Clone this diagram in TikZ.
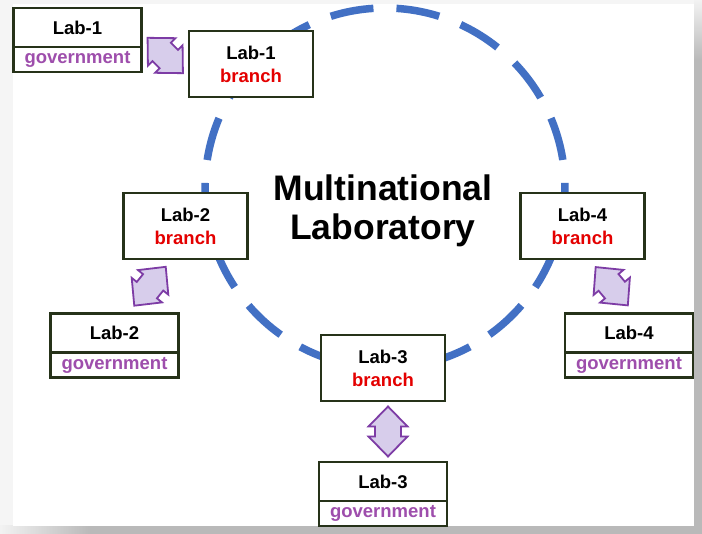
\documentclass[tikz,border=0pt]{standalone}
\usepackage{fontspec}
\setmainfont{Liberation Sans}
\usetikzlibrary{positioning,calc}
\definecolor{boxline}{RGB}{38,50,25}
\definecolor{branchred}{RGB}{228,0,0}
\definecolor{govpurple}{RGB}{158,78,172}
\definecolor{arrline}{RGB}{125,60,165}
\definecolor{arrfill}{RGB}{215,205,235}
\definecolor{ringblue}{RGB}{66,112,196}
\begin{document}
\begin{tikzpicture}[
	x=1pt,y=-1pt,
	font=\fontsize{18.5}{23}\selectfont\bfseries,
	brbox/.style={draw=boxline,line width=2.4pt,fill=white,outer sep=0pt,
		inner sep=0pt,minimum width=124pt,minimum height=66pt,align=center},
	govtop/.style={draw=boxline,line width=2.4pt,fill=white,outer sep=0pt,
		inner sep=0pt,minimum width=128pt,minimum height=39pt},
	govname/.style={govtop,minimum height=25pt,text=govpurple},
	ring/.style={draw=ringblue,line width=7.5pt,dash pattern=on 43.5pt off 23.03pt},
	dblarrow/.pic={
		\draw[draw=arrline,fill=arrfill,line width=1.8pt,line join=miter]
			(-25,0) -- (-5,19.5) -- (-5,13) -- (5,13) -- (5,19.5) -- (25,0)
			-- (5,-19.5) -- (5,-13) -- (-5,-13) -- (-5,-19.5) -- cycle;
	},
	]
% slide and shadow
\useasboundingbox (0,0) rectangle (702,534);
\fill[gray!8] (0,0) rectangle (702,534);
\shade[left color=gray!10,right color=gray!55] (0,526) rectangle (90,534);
\fill[gray!55] (90,526) rectangle (702,534);
\shade[top color=gray!10,bottom color=gray!55] (694,0) rectangle (702,60);
\fill[gray!55] (694,60) rectangle (702,534);
\fill[white] (13,4) rectangle (694,526);

% dashed ring (y runs down, so 270 is the top)
\coordinate (mid) at (385,188);
\draw[ring] (mid) ++(273.66:180) arc[start angle=273.66,end angle=633.66,radius=180];

\node[font=\fontsize{35.5}{39}\selectfont\bfseries,align=center] (title) at (383,211)
	{Multinational\\Laboratory};

% branches
\node[brbox] (lab1br) at (251,64) {Lab-1\\\textcolor{branchred}{branch}};
\node[brbox] (lab2br) at (185.5,226) {Lab-2\\\textcolor{branchred}{branch}};
\node[brbox] (lab3br) at (383,368) {Lab-3\\\textcolor{branchred}{branch}};
\node[brbox] (lab4br) at (582.5,226) {Lab-4\\\textcolor{branchred}{branch}};

% governments
\node[govtop] (lab1gov) at (77.5,27.5) {Lab-1};
\node[govname,below=0pt of lab1gov] (lab1name) {government};
\node[govtop] (lab2gov) at (114.5,333) {Lab-2};
\node[govname,below=0pt of lab2gov] (lab2name) {government};
\node[govtop] (lab3gov) at (383,481.5) {Lab-3};
\node[govname,below=0pt of lab3gov] (lab3name) {government};
\node[govtop] (lab4gov) at (629,333) {Lab-4};
\node[govname,below=0pt of lab4gov] (lab4name) {government};

% links
\pic[rotate=-45] at ($(lab1name.north east)!0.5!(lab1br.west)$) {dblarrow};
\pic[rotate=51] at ($(lab2br.south)!0.5!(lab2gov.north)$) {dblarrow};
\pic[rotate=90] at ($(lab3br.south)!0.5!(lab3gov.north)+(5,0)$) {dblarrow};
\pic[rotate=-50] at ($(lab4br.south)!0.5!(lab4gov.north)+(6,0)$) {dblarrow};
\end{tikzpicture}
\end{document}
